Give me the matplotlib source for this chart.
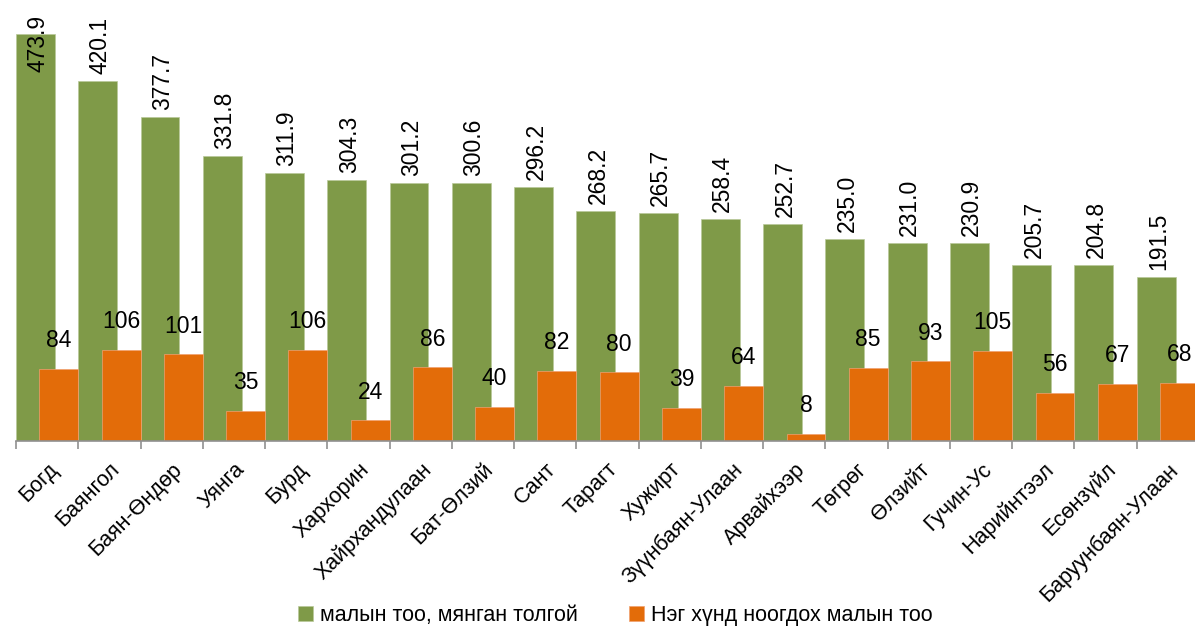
import numpy as np
import matplotlib
matplotlib.use("Agg")
import matplotlib.pyplot as plt

names = ["Богд", "Баянгол", "Баян-Өндөр", "Уянга", "Бурд", "Хархорин",
         "Хайрхандулаан", "Бат-Өлзий", "Сант", "Тарагт", "Хужирт",
         "Зүүнбаян-Улаан", "Арвайхээр", "Төгрөг", "Өлзийт", "Гучин-Ус",
         "Нарийнтээл", "Есөнзүйл", "Баруунбаян-Улаан"]
livestock = [473.9, 420.1, 377.7, 331.8, 311.9, 304.3, 301.2, 300.6, 296.2,
             268.2, 265.7, 258.4, 252.7, 235.0, 231.0, 230.9, 205.7, 204.8, 191.5]
per_person = [84, 106, 101, 35, 106, 24, 86, 40, 82, 80, 39, 64, 8, 85, 93,
              105, 56, 67, 68]
label_green = "малын тоо, мянган толгой"
label_orange = "Нэг хүнд ноогдох малын тоо"

plt.rcParams['font.family'] = ['Liberation Sans', 'DejaVu Sans']

green = "#7f9a48"
orange = "#e36c09"

fig = plt.figure(figsize=(11.95, 6.28), dpi=100)
ax = fig.add_axes([16/1195, 1 - 441/628, 1183/1195, 441/628])

n = len(names)
x = np.arange(n)
w = 0.625
ymax = 514

ax.bar(x + 0.3125, livestock, w, color=green, edgecolor="#b9c99a", linewidth=0.5, label=label_green)
ax.bar(x + 0.6875, per_person, w, color=orange, edgecolor="#f0a070", linewidth=0.5, label=label_orange)

# value labels on the green bars (vertical); the tallest one goes inside
for xi, v in zip(x, livestock):
    if v + 75 > ymax:
        ax.text(xi + 0.35, ymax - 17, f"{v:.1f}", rotation=90, ha="center", va="top", fontsize=16.5)
    else:
        ax.annotate(f"{v:.1f}", (xi + 0.35, v), xytext=(0, 5), textcoords="offset points",
                    rotation=90, ha="center", va="bottom", fontsize=16.5)

for xi, v in zip(x, per_person):
    ax.annotate(f"{v}", (xi + 0.6875, v), xytext=(0, 12), textcoords="offset points",
                ha="center", va="bottom", fontsize=16.5)

ax.set_xlim(0, n)
ax.set_ylim(0, ymax)

ax.set_xticks(np.arange(n + 1))
ax.set_xticklabels([])
ax.set_xticks(x + 0.5, minor=True)
ax.set_xticklabels(names, minor=True, rotation=45, ha="right", rotation_mode="anchor", fontsize=15.5)
ax.tick_params(axis="x", which="major", length=6, color="#909090", width=1.2)
ax.tick_params(axis="x", which="minor", length=0, pad=13)
ax.set_yticks([])

for s in ["top", "right", "left"]:
    ax.spines[s].set_visible(False)
ax.spines["bottom"].set_color("#909090")
ax.spines["bottom"].set_linewidth(1.2)

fig.legend(loc="lower center", bbox_to_anchor=(0.515, -0.028), ncol=2, frameon=False,
           fontsize=15.5, handlelength=0.7, handleheight=0.7, handletextpad=0.3,
           columnspacing=2.4)

fig.savefig("out.png", dpi=100)
